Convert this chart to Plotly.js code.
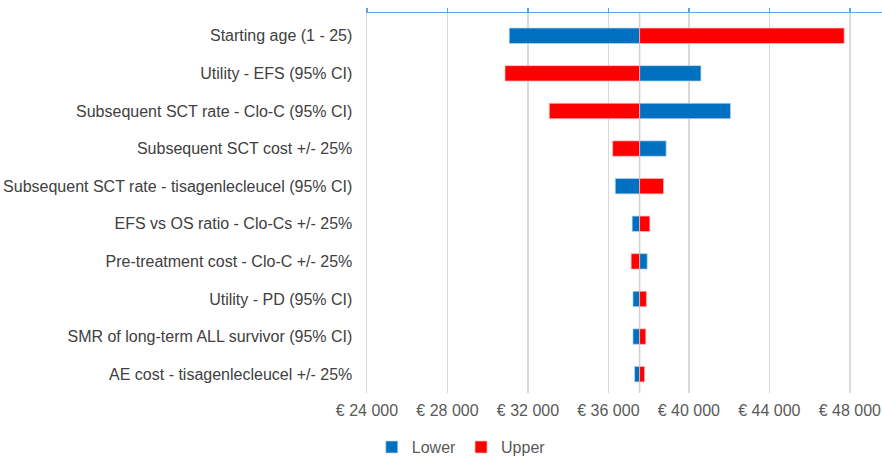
<!DOCTYPE html>
<html>
<head>
<meta charset="utf-8">
<script src="https://cdn.plot.ly/plotly-3.0.1.min.js"></script>
<style>html,body{margin:0;padding:0;background:#fff;}#chart{width:882px;height:460px;}</style>
</head>
<body>
<div id="chart"></div>
<script>
// Parameters (top to bottom)
const categories = [
  "Starting age (1 - 25)",
  "Utility - EFS (95% CI)",
  "Subsequent SCT rate - Clo-C (95% CI)",
  "Subsequent SCT cost +/- 25%",
  "Subsequent SCT rate - tisagenlecleucel (95% CI)",
  "EFS vs OS ratio - Clo-Cs +/- 25%",
  "Pre-treatment cost - Clo-C +/- 25%",
  "Utility - PD (95% CI)",
  "SMR of long-term ALL survivor (95% CI)",
  "AE cost - tisagenlecleucel +/- 25%"
];
// Base-case ICER (EUR)
const baseValue = 37550;
// ICER at lower / upper bound of each parameter (EUR)
const lowerValues = [31070, 40600, 42070, 38870, 36340, 37180, 37930, 37220, 37220, 37300];
const upperValues = [47720, 30860, 33060, 36210, 38740, 38060, 37130, 37890, 37860, 37800];
// Tick labels
const tickValues = [24000, 28000, 32000, 36000, 40000, 44000, 48000];
const tickLabels = ["€ 24 000", "€ 28 000", "€ 32 000", "€ 36 000", "€ 40 000", "€ 44 000", "€ 48 000"];

const blue = "#0070C0", red = "#FF0000";

const traces = [
  {
    type: "bar", orientation: "h", name: "Lower",
    y: categories, base: baseValue,
    x: lowerValues.map(v => v - baseValue),
    marker: {color: blue, line: {color: "rgba(190,215,240,0.9)", width: 0.8}},
    width: 0.41, hoverinfo: "skip"
  },
  {
    type: "bar", orientation: "h", name: "Upper",
    y: categories, base: baseValue,
    x: upperValues.map(v => v - baseValue),
    marker: {color: red, line: {color: "rgba(255,190,190,0.9)", width: 0.8}},
    width: 0.41, hoverinfo: "skip"
  },
  {
    type: "scatter", mode: "markers", xaxis: "x2", yaxis: "y",
    x: [baseValue], y: [categories[0]],
    marker: {opacity: 0}, showlegend: false, hoverinfo: "skip"
  }
];

const xRange = [24000, 49600];

const layout = {
  width: 882, height: 460,
  margin: {l: 367, r: 0, t: 13, b: 67, autoexpand: false},
  paper_bgcolor: "#fff", plot_bgcolor: "#fff",
  font: {family: "Liberation Sans, Arial, sans-serif", size: 16, color: "#404040"},
  barmode: "overlay",
  showlegend: true,
  legend: {
    orientation: "h", xref: "container", yref: "container",
    x: 0.523, xanchor: "center", y: 0.028, yanchor: "middle",
    font: {size: 16, color: "#595959"}, traceorder: "normal", itemwidth: 30
  },
  xaxis: {
    range: xRange, tickvals: tickValues, ticktext: tickLabels,
    showgrid: true, gridcolor: "#d9d9d9", gridwidth: 1.5,
    zeroline: false, showline: false, ticks: "",
    tickfont: {size: 16, color: "#595959"}, ticklabelstandoff: 6
  },
  xaxis2: {
    range: xRange, overlaying: "x", side: "top", anchor: "y",
    tickvals: tickValues, showticklabels: false,
    showgrid: false, zeroline: false,
    showline: true, linecolor: "#6A9FD8", linewidth: 1.5,
    ticks: "outside", ticklen: 4, tickcolor: "#6A9FD8", tickwidth: 1.5
  },
  yaxis: {
    type: "category", categoryorder: "array", categoryarray: categories,
    autorange: "reversed",
    showgrid: false, zeroline: false,
    showline: true, linecolor: "#d9d9d9", linewidth: 1.5,
    ticks: "", ticklabelstandoff: 10,
    tickfont: {size: 16, color: "#404040"}
  },
  shapes: [{
    type: "line", xref: "x", yref: "paper",
    x0: baseValue, x1: baseValue, y0: 0, y1: 1,
    line: {color: "#d0d0d0", width: 1.5}, layer: "below"
  }]
};

Plotly.newPlot("chart", traces, layout, {displayModeBar: false, staticPlot: true});
</script>
</body>
</html>
